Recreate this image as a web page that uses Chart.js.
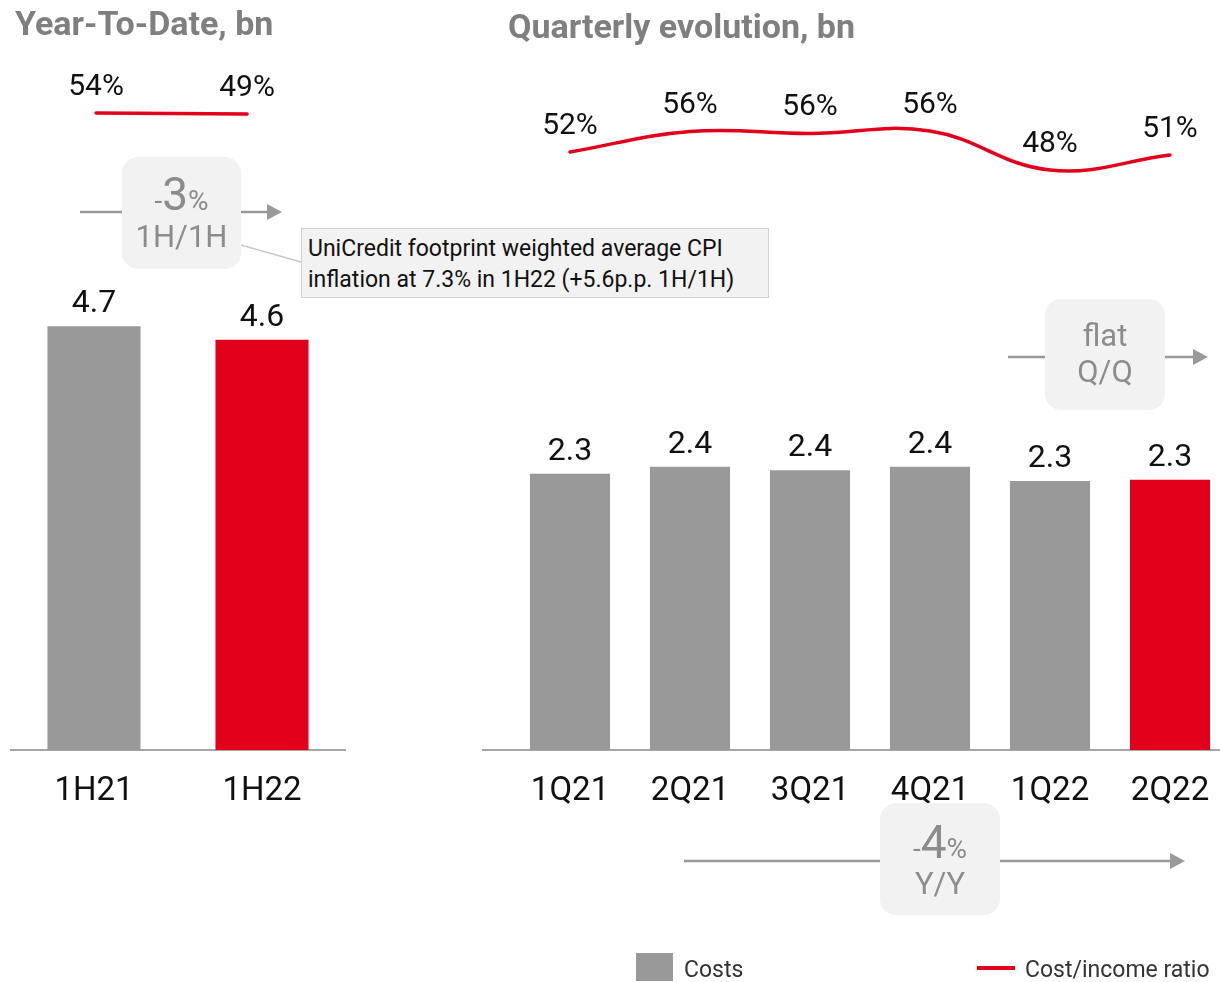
<!DOCTYPE html>
<html>
<head>
<meta charset="utf-8">
<script src="https://cdn.jsdelivr.net/npm/chart.js@4"></script>
<style>
  html, body { margin: 0; padding: 0; width: 1220px; height: 982px; overflow: hidden; background: #fff; }
  body { position: relative; font-family: Roboto, 'DejaVu Sans', sans-serif; }
  .abs { position: absolute; }
  .title { font-weight: bold; font-size: 34px; color: #7f7f7f; line-height: 40px; white-space: nowrap; }
  .pill { background: #f2f2f2; border-radius: 16px; }
  .pilltxt { color: #8c8c8c; text-align: center; white-space: nowrap; }
  .callout { background: #f2f2f2; border: 1.5px solid #d0d0d0; box-sizing: border-box; color: #111;
             font-size: 23px; line-height: 31px; padding: 4px 0 0 6px; white-space: nowrap; }
  .legend { font-size: 23px; color: #333; line-height: 30px; white-space: nowrap; }
  canvas { position: absolute; top: 0; }
</style>
</head>
<body>
<canvas id="ytdChart" width="360" height="830" style="left:0"></canvas>
<canvas id="qChart" width="760" height="830" style="left:482px"></canvas>

<svg class="abs" style="left:0;top:0" width="1220" height="982">
  <g stroke="#999" stroke-width="2.5" fill="none">
    <line x1="80" y1="212" x2="122" y2="212"/>
    <line x1="241" y1="212" x2="270" y2="212"/>
    <line x1="1008" y1="357" x2="1045" y2="357"/>
    <line x1="1165" y1="357" x2="1195" y2="357"/>
    <line x1="684" y1="861" x2="880" y2="861"/>
    <line x1="1000" y1="861" x2="1172" y2="861"/>
  </g>
  <g fill="#999">
    <polygon points="267,204 282,212 267,220"/>
    <polygon points="1193,349 1208,357 1193,365"/>
    <polygon points="1170,853 1185,861 1170,869"/>
  </g>
  <line x1="241" y1="245" x2="301" y2="262" stroke="#c8c8c8" stroke-width="1.5"/>
</svg>

<div class="abs title" style="left:15px;top:3px">Year-To-Date, bn</div>
<div class="abs title" style="left:508px;top:6px">Quarterly evolution, bn</div>

<div class="abs pill" style="left:122px;top:157px;width:119px;height:112px"></div>
<div class="abs pilltxt" style="left:122px;top:170px;width:119px;line-height:48px">
  <span style="font-size:28px">-</span><span style="font-size:46px">3</span><span style="font-size:28px">%</span>
</div>
<div class="abs pilltxt" style="left:122px;top:219px;width:119px;line-height:36px;font-size:31px">1H/1H</div>

<div class="abs callout" style="left:301px;top:228px;width:468px;height:70px">UniCredit footprint weighted average CPI<br>inflation at 7.3% in 1H22 (+5.6p.p. 1H/1H)</div>

<div class="abs pill" style="left:1045px;top:299px;width:120px;height:111px"></div>
<div class="abs pilltxt" style="left:1045px;top:318px;width:120px;line-height:36px;font-size:31px">flat</div>
<div class="abs pilltxt" style="left:1045px;top:354px;width:120px;line-height:36px;font-size:31px">Q/Q</div>

<div class="abs pill" style="left:880px;top:803px;width:120px;height:112px"></div>
<div class="abs pilltxt" style="left:880px;top:818px;width:120px;line-height:48px">
  <span style="font-size:28px">-</span><span style="font-size:46px">4</span><span style="font-size:28px">%</span>
</div>
<div class="abs pilltxt" style="left:880px;top:866px;width:120px;line-height:36px;font-size:31px">Y/Y</div>

<div class="abs" style="left:636px;top:953px;width:37px;height:28px;background:#999"></div>
<div class="abs legend" style="left:684px;top:955px">Costs</div>
<div class="abs" style="left:977px;top:966px;width:38px;height:4px;background:#e2001a"></div>
<div class="abs legend" style="left:1025px;top:955px">Cost/income ratio</div>

<script>
// values
const ytdLabels = ['1H21', '1H22'];
const ytdCosts = [4.71, 4.56];
const ytdRatio = [54, 49];

const qLabels = ['1Q21', '2Q21', '3Q21', '4Q21', '1Q22', '2Q22'];
const qCosts = [2.33, 2.39, 2.36, 2.39, 2.27, 2.28];
const qRatio = [51.8, 55.9, 55.5, 56.0, 48.2, 51.2];

const GREY = '#999999';
const RED = '#e2001a';

Chart.defaults.font.family = 'Roboto, "DejaVu Sans", sans-serif';
Chart.defaults.animation = false;

// value labels above bars and line points
const valueLabels = {
    id: 'valueLabels',
    afterDatasetsDraw(chart) {
        const ctx = chart.ctx;
        chart.data.datasets.forEach((ds, i) => {
            const meta = chart.getDatasetMeta(i);
            const isLine = ds.type === 'line';
            ctx.save();
            ctx.fillStyle = '#111';
            ctx.font = (isLine ? 30 : 32) + 'px ' + Chart.defaults.font.family;
            ctx.textAlign = 'center';
            ctx.textBaseline = 'middle';
            meta.data.forEach((el, j) => {
                const raw = ds.data[j];
                const v = typeof raw === 'object' ? raw.y : raw;
                const txt = isLine ? Math.round(v) + '%' : v.toFixed(1);
                ctx.fillText(txt, el.x, el.y - (isLine ? 26 : 22));
            });
            ctx.restore();
        });
    }
};

// horizontal base line under the bars
const baseLine = {
    id: 'baseLine',
    beforeDatasetsDraw(chart, args, opts) {
        const ctx = chart.ctx;
        const y = chart.scales.y.getPixelForValue(0);
        ctx.save();
        ctx.strokeStyle = '#a6a6a6';
        ctx.lineWidth = 2;
        ctx.beginPath();
        ctx.moveTo(opts.from, y);
        ctx.lineTo(opts.to, y);
        ctx.stroke();
        ctx.restore();
    }
};

const xTicks = {
    color: '#111',
    font: { size: 33 },
    padding: 14
};

function fixHeight(scale) {
    scale.height = 80;
}

// Year-To-Date chart
const ytdChart = document.getElementById('ytdChart');
if (ytdChart) {
    new Chart(ytdChart, {
        data: {
            labels: ytdLabels,
            datasets: [{
                type: 'line',
                data: ytdRatio.map((v, i) => ({ x: i, y: v })),
                xAxisID: 'xl',
                yAxisID: 'y2',
                borderColor: RED,
                borderWidth: 3.5,
                pointRadius: 0,
                borderCapStyle: 'round',
                order: 0
            }, {
                type: 'bar',
                data: ytdCosts,
                backgroundColor: ytdCosts.map((v, i) => i === ytdCosts.length - 1 ? RED : GREY),
                grouped: false,
                categoryPercentage: 1,
                barPercentage: 0.554,
                order: 1
            }]
        },
        options: {
            responsive: false,
            layout: { padding: { left: 10, right: 14, top: 60, bottom: 0 } },
            scales: {
                x: { grid: { display: false }, border: { display: false }, ticks: xTicks, afterFit: fixHeight },
                xl: { type: 'linear', display: false, min: -0.570, max: 1.655 },
                y: { display: false, min: 0, max: 7.67 },
                y2: { display: false, min: -3131, max: 319 }
            },
            plugins: {
                legend: { display: false },
                tooltip: { enabled: false },
                baseLine: { from: 10, to: 346 }
            }
        },
        plugins: [baseLine, valueLabels]
    });
}

// Quarterly chart
const qChart = document.getElementById('qChart');
if (qChart) {
    new Chart(qChart, {
        data: {
            labels: qLabels,
            datasets: [{
                type: 'line',
                data: qRatio,
                yAxisID: 'y2',
                borderColor: RED,
                borderWidth: 3.5,
                pointRadius: 0,
                tension: 0.4,
                borderCapStyle: 'round',
                order: 0
            }, {
                type: 'bar',
                data: qCosts,
                backgroundColor: qCosts.map((v, i) => i === qCosts.length - 1 ? RED : GREY),
                grouped: false,
                categoryPercentage: 1,
                barPercentage: 0.667,
                order: 1
            }]
        },
        options: {
            responsive: false,
            layout: { padding: { left: 28, right: 12, top: 60, bottom: 0 } },
            scales: {
                x: { grid: { display: false }, border: { display: false }, ticks: xTicks, afterFit: fixHeight },
                y: { display: false, min: 0, max: 5.82 },
                y2: { display: false, min: -67.8, max: 70.2 }
            },
            plugins: {
                legend: { display: false },
                tooltip: { enabled: false },
                baseLine: { from: 0, to: 738 }
            }
        },
        plugins: [baseLine, valueLabels]
    });
}
</script>
</body>
</html>
